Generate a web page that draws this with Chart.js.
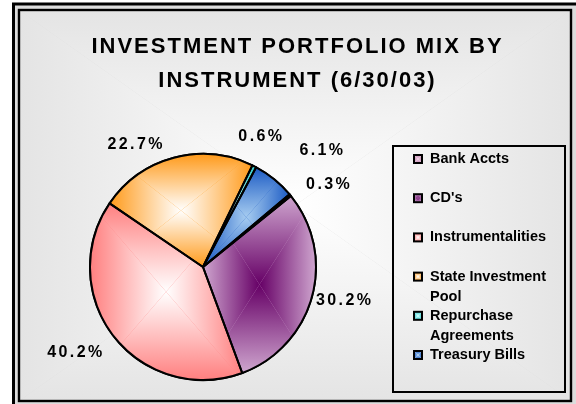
<!DOCTYPE html>
<html><head><meta charset="utf-8">
<script src="https://cdn.jsdelivr.net/npm/chart.js@4.4.1/dist/chart.umd.min.js"></script>
<style>html,body{margin:0;padding:0;background:#fff;}canvas{display:block;}</style>
</head><body>
<canvas id="c" width="576" height="404"></canvas>
<script>
// ---- data ----
const categories = ['Bank Accts', "CD's", 'Instrumentalities', 'State Investment Pool', 'Repurchase Agreements', 'Treasury Bills'];
const shares = [0.3, 30.2, 40.2, 22.7, 0.6, 6.1];
const titleLines = ['INVESTMENT PORTFOLIO MIX BY', 'INSTRUMENT (6/30/03)'];

// ---- styles ----
const edgeColors   = ['#C58FB5', '#CFA6CF', '#FF7F7F', '#FF9A1A', '#33CCCC', '#1C5BC4'];
const centerColors = ['#EBC6DE', '#660066', '#FFFFFF', '#FFFFFF', '#CCFFFF', '#A6CCF0'];
const labelAngleOffset = [5.9, -2.0, 4.2, -14.1, -3.3, 6.3];
const labelRadiusFactor = [1.327, 1.278, 1.367, 1.242, 1.26, 1.471];
const FONT = '"Liberation Sans", Arial, sans-serif';

function rectGrad(ctx, x0, y0, x1, y1, edge, center) {
  const cx = (x0 + x1) / 2, cy = (y0 + y1) / 2;
  const sides = [
    [x0, y0, x1, y0, 0, y0, 0, cy],
    [x1, y0, x1, y1, x1, 0, cx, 0],
    [x1, y1, x0, y1, 0, y1, 0, cy],
    [x0, y1, x0, y0, x0, 0, cx, 0]
  ];
  for (const [ax, ay, bx, by, gx0, gy0, gx1, gy1] of sides) {
    const g = ctx.createLinearGradient(gx0, gy0, gx1, gy1);
    g.addColorStop(0, edge); g.addColorStop(1, center);
    ctx.fillStyle = g;
    ctx.beginPath(); ctx.moveTo(ax, ay); ctx.lineTo(bx, by); ctx.lineTo(cx, cy); ctx.closePath(); ctx.fill();
  }
}

function wrapWords(ctx, text, maxW) {
  const words = text.split(' '); const lines = []; let cur = '';
  for (const w of words) {
    const t = cur ? cur + ' ' + w : w;
    if (cur && ctx.measureText(t).width > maxW) { lines.push(cur); cur = w; } else cur = t;
  }
  if (cur) lines.push(cur);
  return lines;
}

function drawLegend(chart, box) {
  const ctx = chart.ctx;
  const L = box.left, T = box.top, B = box.bottom;
  ctx.save();
  ctx.letterSpacing = '0px';
  ctx.lineWidth = 2; ctx.strokeStyle = '#000';
  ctx.strokeRect(L + 6, T - 7, 172, B - T + 18);
  ctx.font = 'bold 14.5px ' + FONT;
  ctx.textBaseline = 'middle'; ctx.textAlign = 'left';
  const labels = chart.data.labels;
  labels.forEach((lab, i) => {
    const y = T + 6 + i * 39.2;
    const bx = L + 27, by = y - 4;
    rectGrad(ctx, bx, by, bx + 8, by + 8, edgeColors[i], centerColors[i]);
    ctx.lineWidth = 2; ctx.strokeStyle = '#000';
    ctx.strokeRect(bx, by, 8, 8);
    ctx.fillStyle = '#000';
    wrapWords(ctx, lab, 130).forEach((line, j) => ctx.fillText(line, L + 43, y + j * 20));
  });
  ctx.restore();
}

const sideLegend = {
  id: 'sideLegend',
  beforeInit(chart) {
    const box = {
      position: 'right', weight: 10, fullSize: false, options: {},
      left: 0, top: 0, right: 0, bottom: 0, width: 0, height: 0,
      isHorizontal() { return false; },
      update(maxW, maxH) { this.width = 189; this.height = maxH; },
      draw() { drawLegend(chart, this); },
      _layers() { return [{z: 0, draw: () => drawLegend(chart, box)}]; }
    };
    if (Chart.layouts && Chart.layouts.addBox) Chart.layouts.addBox(chart, box);
    else { chart.boxes = chart.boxes || []; chart.boxes.push(box); }
  }
};

const frameAndSlices = {
  id: 'frameAndSlices',
  beforeDraw(chart) {
    const ctx = chart.ctx, W = chart.width, H = chart.height;
    ctx.save();
    ctx.fillStyle = '#fff'; ctx.fillRect(0, 0, W, H);
    ctx.fillStyle = '#dcdcdc'; ctx.fillRect(13.5, 4, W + 10, H + 10);
    rectGrad(ctx, 19, 10, 571, 401, '#E4E4E4', '#FFFFFF');
    ctx.strokeStyle = '#000';
    ctx.lineWidth = 3; ctx.strokeRect(13.5, 4, W - 13.5 + 1.5, H - 4 + 3);
    ctx.lineWidth = 2.4; ctx.strokeRect(19, 10, 552, 391);
    ctx.restore();
    ctx.letterSpacing = '2px';
  },
  beforeDatasetsDraw(chart) { chart.ctx.letterSpacing = '0px'; },
  afterDatasetsDraw(chart) {
    const ctx = chart.ctx;
    const arcs = chart.getDatasetMeta(0).data;
    const P = arcs.map(a => a.getProps(['x', 'y', 'startAngle', 'endAngle', 'outerRadius'], true));
    ctx.save();
    ctx.letterSpacing = '0px';
    P.forEach((p, i) => {
      const pts = [[p.x, p.y]];
      const add = t => pts.push([p.x + p.outerRadius * Math.cos(t), p.y + p.outerRadius * Math.sin(t)]);
      add(p.startAngle); add(p.endAngle);
      for (let k = Math.ceil(p.startAngle / (Math.PI / 2)); k * Math.PI / 2 <= p.endAngle; k++) add(k * Math.PI / 2);
      const xs = pts.map(q => q[0]), ys = pts.map(q => q[1]);
      ctx.save();
      ctx.beginPath(); ctx.moveTo(p.x, p.y); ctx.arc(p.x, p.y, p.outerRadius, p.startAngle, p.endAngle); ctx.closePath();
      ctx.clip();
      rectGrad(ctx, Math.min(...xs), Math.min(...ys), Math.max(...xs), Math.max(...ys), edgeColors[i], centerColors[i]);
      ctx.restore();
    });
    ctx.strokeStyle = '#000'; ctx.lineWidth = 2; ctx.lineJoin = 'round';
    P.forEach(p => {
      ctx.beginPath(); ctx.moveTo(p.x, p.y); ctx.arc(p.x, p.y, p.outerRadius, p.startAngle, p.endAngle); ctx.closePath();
      ctx.stroke();
    });
    // percentage labels
    ctx.font = 'bold 16px ' + FONT;
    ctx.letterSpacing = '2.4px';
    ctx.fillStyle = '#000'; ctx.textAlign = 'center'; ctx.textBaseline = 'middle';
    const vals = chart.data.datasets[0].data;
    P.forEach((p, i) => {
      const mid = (p.startAngle + p.endAngle) / 2 + labelAngleOffset[i] * Math.PI / 180;
      const r = p.outerRadius * labelRadiusFactor[i];
      ctx.fillText(vals[i].toFixed(1) + '%', p.x + r * Math.cos(mid) + 1.2, p.y + r * Math.sin(mid));
    });
    ctx.restore();
  }
};

new Chart(document.getElementById('c'), {
  type: 'pie',
  data: {
    labels: categories,
    datasets: [{
      data: shares,
      backgroundColor: edgeColors,
      borderColor: '#000',
      borderWidth: 2
    }]
  },
  options: {
    responsive: false,
    devicePixelRatio: 1,
    animation: false,
    rotation: 50,
    layout: { padding: { left: 19, right: 0, top: 0, bottom: 23 } },
    plugins: {
      legend: { display: false },
      tooltip: { enabled: false },
      title: {
        display: true,
        text: titleLines,
        color: '#000',
        font: { family: FONT, size: 22, weight: 'bold', lineHeight: 1.5455 },
        padding: { top: 30, bottom: 55 }
      }
    }
  },
  plugins: [sideLegend, frameAndSlices]
});
</script>
</body></html>
